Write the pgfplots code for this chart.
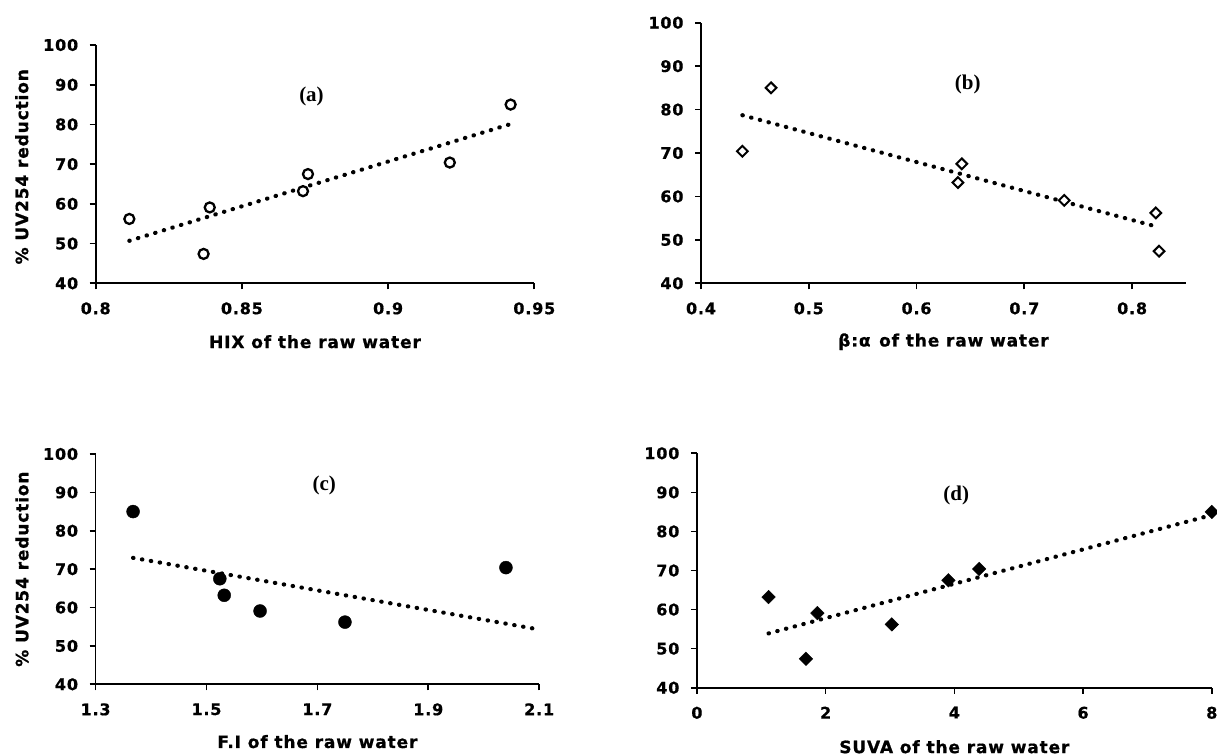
\documentclass[border=0pt]{standalone}
\usepackage{fontspec}
\setmainfont{DejaVu Sans}[LetterSpace=5, BoldFeatures={FakeBold=0.8}]
\newfontfamily\serifb{Liberation Serif}
\usepackage{pgfplots}
\pgfplotsset{compat=1.18}

\pgfplotsset{
  mystyle/.style={
    scale only axis,
    axis lines*=left,
    axis line style={line width=1.7pt, black},
    tick align=outside,
    major tick length=6pt,
    tick style={line width=1.7pt, black},
    ymin=40, ymax=100, ytick={40,50,60,70,80,90,100},
    yticklabels={40,50,60,70,80,90,100},
    tick label style={font=\fontsize{16}{18}\selectfont\bfseries},
    label style={font=\fontsize{17}{20}\selectfont\bfseries},
    yticklabel style={xshift=-8pt},
    xticklabel style={yshift=-9.5pt},
    clip=false,
  },
}
\tikzset{
  trend/.style={line width=4.2pt, line cap=round, dash pattern=on 0.4pt off 8.6pt, black},
  plab/.style={font=\serifb\bfseries\fontsize{21}{24}\selectfont},
}

\begin{document}
\begin{tikzpicture}
\useasboundingbox (0,0) rectangle (1217pt,755pt);

% (a)
\begin{axis}[mystyle, at={(95.7pt,471.7pt)}, anchor=south west,
  width=438.6pt, height=238.3pt,
  xmin=0.8, xmax=0.95, xtick={0.8,0.85,0.9,0.95}, xticklabels={0.8,0.85,0.9,0.95},
  xlabel={HIX of the raw water}, ylabel={\% UV254 reduction},
  xlabel style={at={(axis description cs:0.5,-0.245)}, anchor=center},
  ylabel style={at={(axis description cs:-0.1685,0.489)}, anchor=center}]
\addplot[only marks, mark=*, mark size=5pt, mark options={fill=white, draw=black, line width=2.3pt}]
  coordinates {(0.8115,56.2) (0.8369,47.4) (0.839,59.1) (0.8709,63.2) (0.8726,67.5) (0.9211,70.4) (0.9419,85.0)};
\addplot[trend] coordinates {(0.8115,50.7) (0.9419,80.1)};
\node[plab] at (axis cs:0.8738,86.95) {(a)};
\end{axis}

% (b)
\begin{axis}[mystyle, at={(701pt,471.7pt)}, anchor=south west,
  width=485pt, height=260.6pt,
  xmin=0.4, xmax=0.85, xtick={0.4,0.5,0.6,0.7,0.8}, xticklabels={0.4,0.5,0.6,0.7,0.8},
  xlabel={β:α\enspace of the raw water},
  xlabel style={at={(axis description cs:0.5,-0.224)}, anchor=center}]
\addplot[only marks, mark=square*, mark size=3.8pt, mark options={rotate=45, fill=white, draw=black, line width=2pt}]
  coordinates {(0.4384,70.4) (0.465,85.0) (0.6384,63.2) (0.642,67.5) (0.737,59.1) (0.822,56.2) (0.825,47.4)};
\addplot[trend] coordinates {(0.4384,78.7) (0.825,52.9)};
\node[plab] at (axis cs:0.6475,85.8) {(b)};
\end{axis}

% (c)
\begin{axis}[mystyle, at={(95.6pt,70.7pt)}, anchor=south west,
  width=443.6pt, height=230.3pt,
  xmin=1.3, xmax=2.1, xtick={1.3,1.5,1.7,1.9,2.1}, xticklabels={1.3,1.5,1.7,1.9,2.1},
  xlabel={F.I of the raw water}, ylabel={\% UV254 reduction},
  xlabel style={at={(axis description cs:0.5,-0.249)}, anchor=center},
  ylabel style={at={(axis description cs:-0.166,0.5)}, anchor=center}]
\addplot[only marks, mark=*, mark size=6.5pt, mark options={fill=black, draw=black}]
  coordinates {(1.3676,85.0) (1.524,67.5) (1.532,63.2) (1.5966,59.1) (1.7497,56.2) (2.04,70.4)};
\addplot[trend] coordinates {(1.3676,72.95) (2.097,54.35)};
\node[plab] at (axis cs:1.7125,91.9) {(c)};
\end{axis}

% (d)
\begin{axis}[mystyle, at={(696.9pt,67.3pt)}, anchor=south west,
  width=514.9pt, height=234.4pt,
  xmin=0, xmax=8, xtick={0,2,4,6,8}, xticklabels={0,2,4,6,8},
  xlabel={SUVA of the raw water},
  xlabel style={at={(axis description cs:0.5,-0.252)}, anchor=center}]
\addplot[only marks, mark=square*, mark size=4.8pt, mark options={rotate=45, fill=black, draw=black}]
  coordinates {(1.113,63.2) (1.694,47.4) (1.872,59.1) (3.028,56.2) (3.908,67.5) (4.385,70.4) (8.0,85.0)};
\addplot[trend] coordinates {(1.113,53.9) (8.0,84.2)};
\node[plab] at (axis cs:4.03,89.15) {(d)};
\end{axis}
\end{tikzpicture}
\end{document}
